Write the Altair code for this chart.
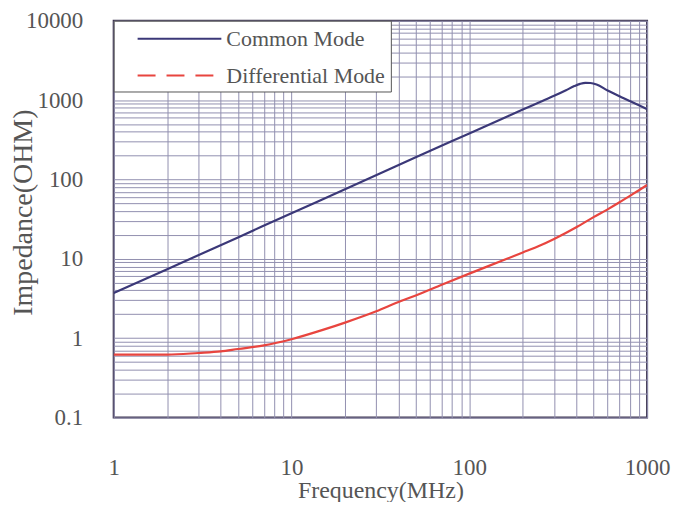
import altair as alt
import pandas as pd

# ---- data ----
series_names = ["Common Mode", "Differential Mode"]

cm_freq = [1, 2, 5, 10, 20, 50, 100, 150, 200, 250, 300, 350, 390, 420, 450, 480, 520, 600, 700, 800, 900, 1000]
cm_imp = [3.7, 7.4, 18.6, 37.5, 75, 190, 380, 570, 760, 945, 1130, 1330, 1500, 1600, 1650, 1640, 1570, 1320, 1115, 970, 860, 770]

dm_freq = [1, 1.5, 2, 3, 4, 5, 7, 10, 15, 20, 30, 40, 50, 70, 100, 150, 200, 250, 300, 400, 500, 600, 700, 800, 900, 1000]
dm_imp = [0.62, 0.62, 0.62, 0.65, 0.68, 0.73, 0.81, 0.97, 1.27, 1.57, 2.18, 2.85, 3.45, 4.7, 6.5, 9.3, 12, 14.7, 17.8, 25, 33.5, 42, 51.5, 62, 73, 85]

x_labels = [1, 10, 100, 1000]
y_labels = [0.1, 1, 10, 100, 1000, 10000]
x_grid = [1, 2, 3, 4, 5, 6, 7, 8, 9, 10, 20, 30, 40, 50, 60, 70, 80, 90,
          100, 200, 300, 400, 500, 600, 700, 800, 900, 1000]
y_grid = [0.1, 0.2, 0.3, 0.4, 0.5, 0.6, 0.7, 0.8, 0.9,
          1, 2, 3, 4, 5, 6, 7, 8, 9, 10, 20, 30, 40, 50, 60, 70, 80, 90,
          100, 200, 300, 400, 500, 600, 700, 800, 900,
          1000, 2000, 3000, 4000, 5000, 6000, 7000, 8000, 9000, 10000]

df = pd.DataFrame({
    "freq": cm_freq + dm_freq,
    "imp": cm_imp + dm_imp,
    "series": [series_names[0]] * len(cm_freq) + [series_names[1]] * len(dm_freq),
})

FONT = "Liberation Serif"
TXT = "#555555"

x_expr = "indexof(%s, datum.value) >= 0 ? datum.label : ''" % str(x_labels)
y_expr = "indexof(%s, datum.value) >= 0 ? datum.label : ''" % str(y_labels)

x_enc = alt.X(
    "freq:Q",
    scale=alt.Scale(type="log", domain=[1, 1000], nice=False),
    axis=alt.Axis(
        values=x_grid, labelExpr=x_expr, format="~g",
        title="Frequency(MHz)", grid=True, ticks=False, domain=False,
        labelPadding=39, labelFlush=False, labelOverlap=False, labelBound=False,
        labelFont=FONT, labelFontSize=23, labelColor=TXT,
        titleFont=FONT, titleFontSize=24, titleFontWeight="normal", titleColor=TXT,
        titleY=73, titleBaseline="middle",
    ),
)
y_enc = alt.Y(
    "imp:Q",
    scale=alt.Scale(type="log", domain=[0.1, 10000], nice=False),
    axis=alt.Axis(
        values=y_grid, labelExpr=y_expr, format="~g",
        title="Impedance(OHM)", grid=True, ticks=False, domain=False,
        labelPadding=31, labelFlush=False, labelOverlap=False, labelBound=False,
        labelFont=FONT, labelFontSize=23, labelColor=TXT, labelBaseline="middle",
        titleFont=FONT, titleFontSize=28, titleFontWeight="normal", titleColor=TXT,
        titleX=-90, titleY=192, titleAngle=270, titleBaseline="middle", titleAlign="center",
    ),
)

color_scale = alt.Scale(domain=series_names, range=["#3b3878", "#e8453f"])
dash_scale = alt.Scale(domain=series_names, range=[[1, 0], [18, 11]])

leg = alt.Legend(
    title=" ", titleFontSize=1, titlePadding=3,
    orient="none", legendX=0, legendY=0,
    symbolType="stroke", symbolSize=7056, symbolStrokeWidth=2, symbolOffset=18,
    labelFont=FONT, labelFontSize=22, labelColor=TXT, labelOffset=4,
    strokeColor="#555555", fillColor="white", padding=5,
    clipHeight=18, rowPadding=15,
)

lines = alt.Chart(df).mark_line(strokeWidth=2.2, interpolate="monotone", clip=True).encode(
    x=x_enc, y=y_enc,
    color=alt.Color("series:N", scale=color_scale, legend=leg),
)

legend_layer = alt.Chart(df).transform_filter("datum.freq == 1").mark_line(strokeWidth=2).encode(
    x=x_enc, y=y_enc,
    color=alt.Color("series:N", scale=color_scale, legend=leg),
    strokeDash=alt.StrokeDash("series:N", scale=dash_scale, legend=leg),
)

chart = alt.layer(lines, legend_layer).properties(
    width=535, height=398,
    autosize=alt.AutoSizeParams(type="none"),
    padding={"left": 106, "top": 12, "right": 25, "bottom": 84},
    background="white",
).configure_view(
    stroke="#3d3550", strokeWidth=2,
).configure_axis(
    gridColor="#9290b0", gridWidth=1, gridOpacity=1,
)

chart.save("out.html", embed_options={"renderer": "svg", "actions": False})
